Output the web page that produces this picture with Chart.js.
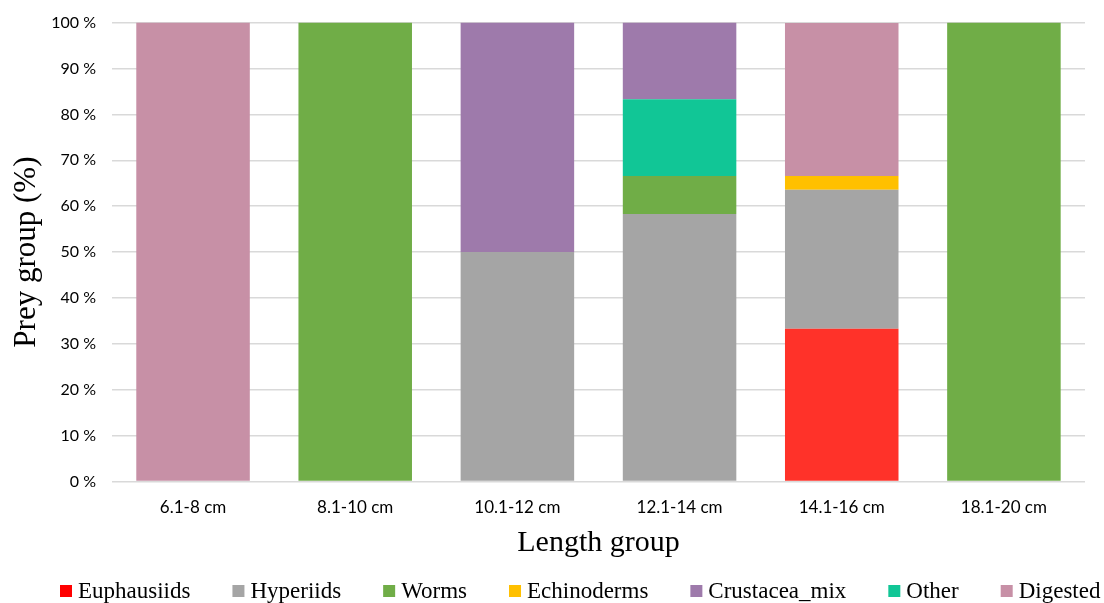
<!DOCTYPE html>
<html>
<head>
<meta charset="utf-8">
<script src="https://cdn.jsdelivr.net/npm/chart.js@4/dist/chart.umd.min.js"></script>
<style>
  html, body { margin: 0; padding: 0; background: #ffffff; }
  #wrap { width: 1104px; height: 603px; }
</style>
</head>
<body>
<div id="wrap"><canvas id="c" width="1104" height="603"></canvas></div>
<script>
// Length groups (x categories)
const categories = ['6.1-8 cm', '8.1-10 cm', '10.1-12 cm', '12.1-14 cm', '14.1-16 cm', '18.1-20 cm'];

// Share of each prey group per length group (%)
const euphausiids  = [0, 0, 0, 0, 33.3, 0];
const hyperiids    = [0, 0, 50, 58.3, 30.3, 0];
const worms        = [0, 100, 0, 8.3, 0, 100];
const echinoderms  = [0, 0, 0, 0, 3.0, 0];
const other        = [0, 0, 0, 16.7, 0, 0];
const crustaceaMix = [0, 0, 50, 16.7, 0, 0];
const digested     = [100, 0, 0, 0, 33.3, 0];

// Y tick values
const yTicks = [0, 10, 20, 30, 40, 50, 60, 70, 80, 90, 100];

// Legend order differs from stacking order
const legendOrder = ['Euphausiids', 'Hyperiids', 'Worms', 'Echinoderms', 'Crustacea_mix', 'Other', 'Digested'];

const series = [
  { label: 'Euphausiids',   data: euphausiids,  color: '#FF3229', key: '#FF0000' },
  { label: 'Hyperiids',     data: hyperiids,    color: '#A5A5A5', key: '#A5A5A5' },
  { label: 'Worms',         data: worms,        color: '#70AD47', key: '#70AD47' },
  { label: 'Echinoderms',   data: echinoderms,  color: '#FFC000', key: '#FFC000' },
  { label: 'Other',         data: other,        color: '#11C696', key: '#11C696' },
  { label: 'Crustacea_mix', data: crustaceaMix, color: '#9E7AAB', key: '#9E7AAB' },
  { label: 'Digested',      data: digested,     color: '#C790A6', key: '#C790A6' }
];

const datasets = series.map(s => ({
  label: s.label,
  data: s.data.map(v => v === 0 ? null : v),
  backgroundColor: s.color,
  keyColor: s.key,
  borderWidth: 0,
  categoryPercentage: 0.7,
  barPercentage: 1.0
}));

// Single-row legend along the bottom edge: square marker, short gap, label
const bottomLegend = {
  id: 'bottomLegend',
  afterDraw(chart, args, opts) {
    const ctx = chart.ctx;
    ctx.save();
    ctx.font = opts.font;
    ctx.textBaseline = 'middle';
    ctx.textAlign = 'left';
    let x = opts.x;
    const y = opts.y;
    legendOrder.forEach(name => {
      const ds = chart.data.datasets.find(d => d.label === name);
      ctx.fillStyle = ds.keyColor || ds.backgroundColor;
      ctx.fillRect(x, y - opts.box / 2, opts.box, opts.box);
      x += opts.box + opts.textGap;
      ctx.fillStyle = '#000000';
      ctx.fillText(name, x, y + 1);
      x += ctx.measureText(name).width + opts.itemGap;
    });
    ctx.restore();
  }
};

new Chart(document.getElementById('c'), {
  type: 'bar',
  data: { labels: categories, datasets: datasets },
  plugins: [bottomLegend],
  options: {
    responsive: false,
    animation: false,
    layout: { padding: { left: 8, right: 19, top: 1, bottom: 42 } },
    plugins: {
      tooltip: { enabled: false },
      legend: { display: false },
      bottomLegend: {
        x: 60, y: 591, box: 12, textGap: 6, itemGap: 42,
        font: '23px "Liberation Serif", "Times New Roman", serif'
      }
    },
    scales: {
      x: {
        stacked: true,
        grid: { display: false, drawTicks: false },
        border: { display: false },
        ticks: {
          color: '#000000',
          padding: 16,
          font: { family: 'Lato, "Liberation Sans", sans-serif', size: 17 }
        },
        title: {
          display: true,
          text: 'Length group',
          color: '#000000',
          padding: { top: -9, bottom: 0 },
          font: { family: '"Liberation Serif", "Times New Roman", serif', size: 30 }
        }
      },
      y: {
        stacked: true,
        min: 0,
        max: 100,
        afterBuildTicks: axis => { axis.ticks = yTicks.map(v => ({ value: v })); },
        // keep only a small headroom above the 100 % line
        afterFit: axis => { axis.paddingTop = Math.max(0, axis.paddingTop - 3); },
        grid: { color: '#D9D9D9', lineWidth: 1.5, drawTicks: false },
        border: { display: false },
        ticks: {
          color: '#000000',
          padding: 16,
          font: { family: 'Lato, "Liberation Sans", sans-serif', size: 16 },
          callback: v => v + ' %'
        },
        title: {
          display: true,
          text: 'Prey group (%)',
          color: '#000000',
          padding: { top: 0, bottom: -10 },
          font: { family: '"Liberation Serif", "Times New Roman", serif', size: 31 }
        }
      }
    }
  }
});
</script>
</body>
</html>
